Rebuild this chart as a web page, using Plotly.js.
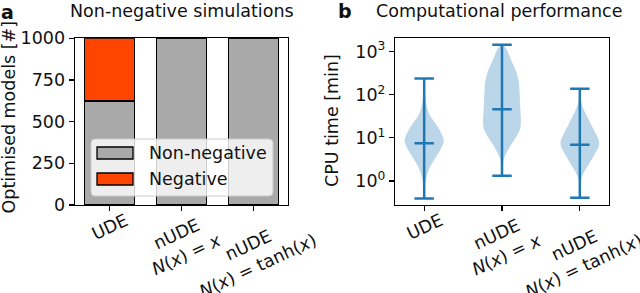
<!DOCTYPE html>
<html><head><meta charset="utf-8">
<script src="https://cdn.plot.ly/plotly-3.0.1.min.js"></script>
<style>html,body{margin:0;padding:0;background:#fff}#chart{width:640px;height:293px}</style>
</head><body><div id="chart"></div>
<script>
// ---------- data ----------
const categories = ['UDE', 'nUDE N(x)=x', 'nUDE N(x)=tanh(x)'];
const tickLabels = ['UDE', 'nUDE<br><i>N</i>(<i>x</i>) = <i>x</i>', 'nUDE<br><i>N</i>(<i>x</i>) = tanh(<i>x</i>)'];
const seriesNames = ['Non-negative', 'Negative'];
const nonNegative = [624, 1000, 1000];
const negative = [376, 0, 0];
const barTicks = [0, 250, 500, 750, 1000];

const violinPositions = [1, 2, 3];
const cpuMin = [0.39, 1.33, 0.41];
const cpuMax = [240, 1450, 138];
const cpuMedian = [7.5, 46, 6.9];
const cpuTicks = [1, 10, 100, 1000];
const cpuTickText = ['10<sup>0</sup>', '10<sup>1</sup>', '10<sup>2</sup>', '10<sup>3</sup>'];

// violin outlines: log10(CPU minutes) and relative half-width
const udeLog = [-0.41, -0.10, 0.09, 0.32, 0.53, 0.71, 0.905, 1.02, 1.25, 1.56, 1.87, 2.1, 2.38];
const udeDensity = [0, 0.03, 0.12, 0.29, 0.56, 0.81, 1.0, 0.96, 0.71, 0.25, 0.08, 0.03, 0];
const nudeXLog = [0.124, 0.49, 0.60, 0.84, 0.99, 1.22, 1.45, 1.69, 2.0, 2.31, 2.54, 2.85, 3.0, 3.1, 3.16];
const nudeXDensity = [0, 0.08, 0.17, 0.46, 0.68, 0.94, 0.97, 0.94, 0.91, 0.86, 0.73, 0.43, 0.3, 0.18, 0];
const nudeTanhLog = [-0.39, -0.1, 0.09, 0.25, 0.40, 0.60, 0.79, 0.905, 1.10, 1.33, 1.64, 1.87, 2.14];
const nudeTanhDensity = [0, 0.02, 0.1, 0.27, 0.48, 0.73, 0.96, 0.99, 0.82, 0.56, 0.22, 0.05, 0];

// ---------- helpers ----------
const W = 640, H = 293;
const px = v => v / W, py = v => 1 - v / H;
const FONT = 'DejaVu Sans, Verdana, sans-serif';
const TXT = '#111';
const BLUE = '#1f77b4';
const idx = categories.map((c, i) => i);

const traces = [];
traces.push({type: 'bar', name: seriesNames[0], x: idx, y: nonNegative, width: 0.7,
  marker: {color: '#a9a9a9', line: {color: '#000', width: 1.3}}, xaxis: 'x', yaxis: 'y', hoverinfo: 'y'});
traces.push({type: 'bar', name: seriesNames[1], x: idx, y: negative, width: 0.7,
  marker: {color: '#ff4500', line: {color: '#000', width: 1.3}}, xaxis: 'x', yaxis: 'y', hoverinfo: 'y'});

const profiles = [[udeLog, udeDensity], [nudeXLog, nudeXDensity], [nudeTanhLog, nudeTanhDensity]];
const halfWidth = 0.25;
profiles.forEach(([lv, dn], i) => {
  const p = violinPositions[i];
  const xs = [], ys = [];
  for (let k = 0; k < lv.length; k++) { xs.push(p + halfWidth * dn[k]); ys.push(Math.pow(10, lv[k])); }
  for (let k = lv.length - 1; k >= 0; k--) { xs.push(p - halfWidth * dn[k]); ys.push(Math.pow(10, lv[k])); }
  traces.push({type: 'scatter', mode: 'lines', x: xs, y: ys, fill: 'toself',
    fillcolor: 'rgba(31,119,180,0.3)', line: {width: 0, shape: 'spline', smoothing: 0.8},
    xaxis: 'x2', yaxis: 'y2', hoverinfo: 'skip'});
});

// whiskers, caps, medians
const capHalf = 0.125;
const lx = [], ly = [];
violinPositions.forEach((p, i) => {
  lx.push(p, p, null); ly.push(cpuMin[i], cpuMax[i], null);
  [cpuMin[i], cpuMax[i], cpuMedian[i]].forEach(v => { lx.push(p - capHalf, p + capHalf, null); ly.push(v, v, null); });
});
traces.push({type: 'scatter', mode: 'lines', x: lx, y: ly, line: {color: BLUE, width: 2.5},
  xaxis: 'x2', yaxis: 'y2', hoverinfo: 'skip'});

// ---------- layout ----------
const axisCommon = {showline: true, mirror: true, linecolor: '#000', linewidth: 1.1,
  ticks: 'outside', ticklen: 5, tickwidth: 1.1, tickcolor: '#000', showgrid: false, zeroline: false,
  tickfont: {family: FONT, size: 17.5, color: TXT}, fixedrange: true};
const yDom = [py(205), py(38.3)];

const annotations = [];
const txt = (text, x, y, opts) => Object.assign({text, x, y, xref: 'paper', yref: 'paper', showarrow: false,
  font: {family: FONT, size: 17.5, color: TXT}}, opts || {});
annotations.push(txt('Non-negative simulations', px(181.5), py(11), {xanchor: 'center', yanchor: 'middle'}));
annotations.push(txt('Computational performance', px(499), py(11), {xanchor: 'center', yanchor: 'middle'}));
annotations.push(txt('<b>a</b>', px(-1), py(12), {xanchor: 'left', yanchor: 'middle', font: {family: FONT, size: 19, color: TXT}}));
annotations.push(txt('<b>b</b>', px(336), py(11), {xanchor: 'left', yanchor: 'middle', font: {family: FONT, size: 19, color: TXT}}));
annotations.push(txt('Optimised models [#]', px(8.5), py(117), {xanchor: 'center', yanchor: 'middle', textangle: -90}));
annotations.push(txt('CPU time [min]', px(332), py(121), {xanchor: 'center', yanchor: 'middle', textangle: -90}));
// legend text
annotations.push(txt(seriesNames[0], px(147), py(153), {xanchor: 'left', yanchor: 'middle'}));
annotations.push(txt(seriesNames[1], px(147), py(179), {xanchor: 'left', yanchor: 'middle'}));
// rotated category tick labels (centered, as in the reference)
idx.forEach(i => {
  annotations.push({text: tickLabels[i], x: i, xref: 'x', y: py(207), yref: 'paper', xanchor: 'center', yanchor: 'top',
    textangle: -25, showarrow: false, align: 'center', font: {family: FONT, size: 17.5, color: TXT}});
  annotations.push({text: tickLabels[i], x: violinPositions[i], xref: 'x2', y: py(207), yref: 'paper', xanchor: 'center', yanchor: 'top',
    textangle: -25, showarrow: false, align: 'center', font: {family: FONT, size: 17.5, color: TXT}});
});

// legend drawn as shapes
function roundRect(x0, y0, x1, y1, r) {
  const P = (x, y) => px(x) + ',' + py(y);
  return 'M' + P(x0 + r, y0) + ' L' + P(x1 - r, y0) + ' Q' + P(x1, y0) + ' ' + P(x1, y0 + r) +
    ' L' + P(x1, y1 - r) + ' Q' + P(x1, y1) + ' ' + P(x1 - r, y1) +
    ' L' + P(x0 + r, y1) + ' Q' + P(x0, y1) + ' ' + P(x0, y1 - r) +
    ' L' + P(x0, y0 + r) + ' Q' + P(x0, y0) + ' ' + P(x0 + r, y0) + ' Z';
}
const shapes = [
  {type: 'path', xref: 'paper', yref: 'paper', path: roundRect(91, 139, 273, 196, 4),
   fillcolor: 'rgba(255,255,255,0.8)', line: {color: '#cccccc', width: 1}, layer: 'above'},
  {type: 'rect', xref: 'paper', yref: 'paper', x0: px(97), x1: px(133), y0: py(147), y1: py(159),
   fillcolor: '#a9a9a9', line: {color: '#000', width: 1.3}, layer: 'above'},
  {type: 'rect', xref: 'paper', yref: 'paper', x0: px(97), x1: px(133), y0: py(173), y1: py(185),
   fillcolor: '#ff4500', line: {color: '#000', width: 1.3}, layer: 'above'}
];

const layout = {
  width: W, height: H, margin: {l: 0, r: 0, t: 0, b: 0}, paper_bgcolor: '#fff', plot_bgcolor: '#fff',
  showlegend: false, barmode: 'stack', font: {family: FONT, color: TXT},
  xaxis: Object.assign({}, axisCommon, {domain: [px(74.7), px(288.3)], range: [-0.485, 2.485], tickvals: idx, showticklabels: false, anchor: 'y'}),
  yaxis: Object.assign({}, axisCommon, {domain: yDom, range: [0, 1000], tickvals: barTicks, anchor: 'x'}),
  xaxis2: Object.assign({}, axisCommon, {domain: [px(395), px(609)], range: [0.625, 3.375], tickvals: violinPositions, showticklabels: false, anchor: 'y2'}),
  yaxis2: Object.assign({}, axisCommon, {domain: yDom, type: 'log', range: [-0.557, 3.311], tickvals: cpuTicks, ticktext: cpuTickText, anchor: 'x2'}),
  annotations, shapes
};
Plotly.newPlot('chart', traces, layout, {displayModeBar: false, staticPlot: true});
</script></body></html>
